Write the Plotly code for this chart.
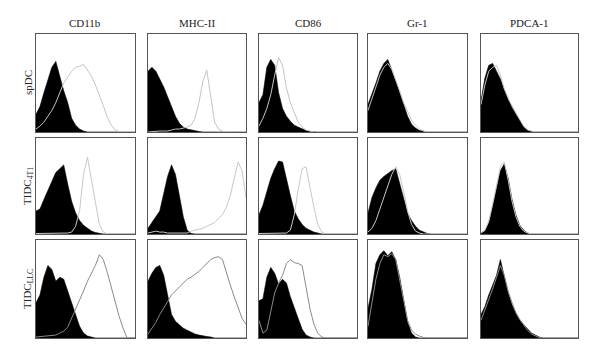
import plotly.graph_objects as go

# Channel grid (fluorescence intensity, arbitrary 0-100 scale)
x_grid = list(range(0, 101, 4))

markers = ["CD11b", "MHC-II", "CD86", "Gr-1", "PDCA-1"]
populations = ["spDC", "TIDC<sub>4T1</sub>", "TIDC<sub>LLC</sub>"]

# ---- spDC row: isotype (black filled) ----
spdc_cd11b_iso = [18, 26, 40, 52, 66, 72, 56, 42, 30, 14, 7, 3, 1, 0, 0, 0, 0, 0, 0, 0, 0, 0, 0, 0, 0, 0]
spdc_mhc_iso   = [62, 66, 62, 54, 46, 36, 26, 16, 9, 5, 3, 2, 1, 0.5, 0, 0, 0, 0, 0, 0, 0, 0, 0, 0, 0, 0]
spdc_cd86_iso  = [30, 38, 66, 74, 68, 40, 24, 16, 11, 7, 5, 3, 1.5, 0.5, 0, 0, 0, 0, 0, 0, 0, 0, 0, 0, 0, 0]
spdc_gr1_iso   = [28, 38, 50, 62, 70, 74, 64, 52, 40, 28, 16, 8, 4, 1.5, 0.5, 0, 0, 0, 0, 0, 0, 0, 0, 0, 0, 0]
spdc_pdca_iso  = [32, 55, 68, 70, 62, 54, 43, 33, 26, 19, 12, 5, 2, 0.5, 0, 0, 0, 0, 0, 0, 0, 0, 0, 0, 0, 0]
# ---- spDC row: stained (grey line) ----
spdc_cd11b_st  = [3, 6, 10, 16, 22, 30, 40, 50, 56, 62, 66, 67, 69, 63, 57, 48, 38, 27, 15, 7, 2, 0.5, 0, 0, 0, 0]
spdc_mhc_st    = [0, 0.5, 0.5, 1, 1, 1, 2, 3, 3, 4, 5, 7, 14, 30, 52, 63, 34, 10, 3, 1, 0, 0, 0, 0, 0, 0]
spdc_cd86_st   = [6, 14, 24, 38, 58, 76, 68, 45, 30, 20, 10, 5, 2, 1, 0, 0, 0, 0, 0, 0, 0, 0, 0, 0, 0, 0]
spdc_gr1_st    = [22, 34, 46, 58, 66, 70, 64, 54, 42, 30, 20, 12, 7, 3, 1, 0, 0, 0, 0, 0, 0, 0, 0, 0, 0, 0]
spdc_pdca_st   = [28, 48, 62, 66, 68, 58, 44, 34, 26, 19, 12, 6, 2, 1, 0, 0, 0, 0, 0, 0, 0, 0, 0, 0, 0, 0]

# ---- TIDC 4T1 row ----
t4_cd11b_iso = [24, 26, 36, 46, 56, 64, 68, 72, 52, 34, 22, 14, 9, 6, 3, 1.5, 0.5, 0, 0, 0, 0, 0, 0, 0, 0, 0]
t4_mhc_iso   = [6, 12, 18, 24, 42, 60, 72, 62, 40, 18, 4, 0.5, 0, 0, 0, 0, 0, 0, 0, 0, 0, 0, 0, 0, 0, 0]
t4_cd86_iso  = [20, 30, 44, 58, 68, 76, 75, 56, 40, 24, 16, 10, 6, 4, 2, 1, 0, 0, 0, 0, 0, 0, 0, 0, 0, 0]
t4_gr1_iso   = [22, 38, 48, 56, 60, 63, 66, 68, 52, 36, 22, 14, 8, 4, 2, 0.5, 0, 0, 0, 0, 0, 0, 0, 0, 0, 0]
t4_pdca_iso  = [1, 3, 12, 28, 48, 66, 73, 58, 36, 20, 9, 4, 1, 0, 0, 0, 0, 0, 0, 0, 0, 0, 0, 0, 0, 0]
t4_cd11b_st  = [0.5, 0.5, 0.5, 0.5, 0.5, 0.5, 0.5, 0.5, 1, 2, 8, 24, 62, 80, 56, 30, 10, 2, 0, 0, 0, 0, 0, 0, 0, 0]
t4_mhc_st    = [1, 2, 3, 2, 2, 1, 1, 1, 0.5, 0.5, 1, 3, 4, 5, 6, 8, 10, 12, 16, 20, 28, 40, 58, 75, 66, 38]
t4_cd86_st   = [0.5, 0.5, 0.5, 0.5, 0.5, 0.5, 0.5, 1, 4, 20, 46, 68, 70, 48, 28, 10, 2, 0, 0, 0, 0, 0, 0, 0, 0, 0]
t4_gr1_st    = [2, 6, 14, 26, 40, 50, 62, 70, 62, 44, 24, 10, 3, 1, 0, 0, 0, 0, 0, 0, 0, 0, 0, 0, 0, 0]
t4_pdca_st   = [1, 4, 13, 30, 50, 70, 75, 56, 34, 18, 8, 3, 1, 0, 0, 0, 0, 0, 0, 0, 0, 0, 0, 0, 0, 0]

# ---- TIDC LLC row ----
llc_cd11b_iso = [36, 44, 62, 74, 70, 58, 62, 60, 48, 36, 22, 12, 5, 2, 1, 0, 0, 0, 0, 0, 0, 0, 0, 0, 0, 0]
llc_mhc_iso   = [58, 66, 72, 74, 64, 44, 24, 17, 13, 10, 8, 6, 4, 3, 2, 1.5, 1, 0, 0, 0, 0, 0, 0, 0, 0, 0]
llc_cd86_iso  = [38, 40, 62, 72, 66, 55, 60, 56, 42, 30, 20, 9, 3, 1, 0, 0, 0, 0, 0, 0, 0, 0, 0, 0, 0, 0]
llc_gr1_iso   = [30, 50, 76, 85, 89, 84, 88, 80, 62, 38, 16, 5, 1, 0, 0, 0, 0, 0, 0, 0, 0, 0, 0, 0, 0, 0]
llc_pdca_iso  = [24, 32, 44, 54, 64, 80, 62, 46, 34, 25, 18, 14, 9, 5, 3, 1, 0, 0, 0, 0, 0, 0, 0, 0, 0, 0]
llc_cd11b_st  = [1, 1.5, 2, 2, 2.5, 3, 5, 7, 11, 20, 29, 39, 48, 58, 66, 74, 85, 80, 67, 52, 37, 22, 10, 0, 0, 0]
llc_mhc_st    = [4, 10, 16, 24, 30, 37, 44, 48, 52, 56, 60, 62, 65, 68, 72, 76, 80, 82, 83, 80, 66, 54, 42, 30, 20, 14]
llc_cd86_st   = [18, 5, 8, 28, 46, 56, 64, 76, 80, 77, 76, 74, 52, 30, 14, 5, 1, 0, 0, 0, 0, 0, 0, 0, 0, 0]
llc_gr1_st    = [12, 36, 60, 76, 85, 83, 86, 80, 58, 36, 18, 8, 4, 2, 0.5, 0, 0, 0, 0, 0, 0, 0, 0, 0, 0, 0]
llc_pdca_st   = [18, 28, 40, 50, 62, 74, 64, 48, 36, 26, 19, 13, 8, 4, 2, 0.5, 0, 0, 0, 0, 0, 0, 0, 0, 0, 0]

isotype = [
    [spdc_cd11b_iso, spdc_mhc_iso, spdc_cd86_iso, spdc_gr1_iso, spdc_pdca_iso],
    [t4_cd11b_iso, t4_mhc_iso, t4_cd86_iso, t4_gr1_iso, t4_pdca_iso],
    [llc_cd11b_iso, llc_mhc_iso, llc_cd86_iso, llc_gr1_iso, llc_pdca_iso],
]
stained = [
    [spdc_cd11b_st, spdc_mhc_st, spdc_cd86_st, spdc_gr1_st, spdc_pdca_st],
    [t4_cd11b_st, t4_mhc_st, t4_cd86_st, t4_gr1_st, t4_pdca_st],
    [llc_cd11b_st, llc_mhc_st, llc_cd86_st, llc_gr1_st, llc_pdca_st],
]

W, H = 600, 360
col_px = [(36, 135), (148, 246), (259, 357), (368, 467), (481, 578)]
row_px = [(34, 132), (138, 234), (240, 338)]
line_colors = ["#c4c4c4", "#c8c8c8", "#8a8a8a"]

fig = go.Figure()
layout = dict(
    width=W, height=H, margin=dict(l=0, r=0, t=0, b=0),
    paper_bgcolor="white", plot_bgcolor="white", showlegend=False,
    font=dict(family="Liberation Serif, Times New Roman, serif", color="#222", size=11),
)
annotations = []
k = 0
for r in range(3):
    for c in range(5):
        k += 1
        xa = "x" if k == 1 else f"x{k}"
        ya = "y" if k == 1 else f"y{k}"
        fig.add_trace(go.Scatter(
            x=x_grid, y=isotype[r][c], mode="lines", fill="tozeroy",
            fillcolor="black", line=dict(color="black", width=0.6),
            xaxis=xa, yaxis=ya, hoverinfo="skip"))
        fig.add_trace(go.Scatter(
            x=x_grid, y=stained[r][c], mode="lines",
            line=dict(color=line_colors[r], width=1),
            xaxis=xa, yaxis=ya, hoverinfo="skip"))
        x0, x1 = col_px[c]
        y0, y1 = row_px[r]
        axstyle = dict(showgrid=False, zeroline=False, showticklabels=False, ticks="",
                       showline=True, linecolor="#555", linewidth=1, mirror=True, fixedrange=True)
        layout["xaxis" if k == 1 else f"xaxis{k}"] = dict(
            domain=[x0 / W, x1 / W], range=[0, 100], anchor=ya, **axstyle)
        layout["yaxis" if k == 1 else f"yaxis{k}"] = dict(
            domain=[1 - y1 / H, 1 - y0 / H], range=[0, 100], anchor=xa, **axstyle)

for c, name in enumerate(markers):
    x0, x1 = col_px[c]
    annotations.append(dict(text=name, x=(x0 + x1) / 2 / W, y=1 - 23 / H,
                            xref="paper", yref="paper", showarrow=False,
                            font=dict(size=11), xanchor="center", yanchor="middle"))
for r, name in enumerate(populations):
    y0, y1 = row_px[r]
    annotations.append(dict(text=name, x=28 / W, y=1 - (y0 + y1) / 2 / H,
                            xref="paper", yref="paper", showarrow=False, textangle=-90,
                            font=dict(size=11), xanchor="center", yanchor="middle"))
layout["annotations"] = annotations
fig.update_layout(**layout)
fig.write_html("out.html", config={"displayModeBar": False, "staticPlot": True},
               post_script="document.body.style.margin='0';document.body.style.padding='0';")
